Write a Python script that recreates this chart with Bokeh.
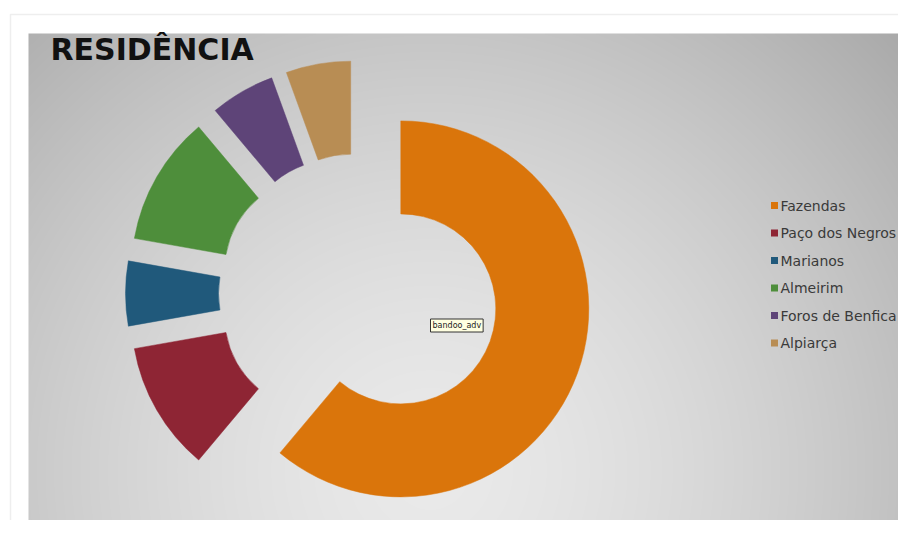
import numpy as np
from bokeh.plotting import figure
from bokeh.models import Range1d, Label, BoxAnnotation, ColumnDataSource
from bokeh.core.properties import value
from bokeh.embed import file_html
from bokeh.resources import INLINE

# ---- data ----
categories = ["Fazendas", "Paço dos Negros", "Marianos", "Almeirim", "Foros de Benfica", "Alpiarça"]
counts = [22, 4, 2, 4, 2, 2]
colors = ["#DA750B", "#8E2534", "#20597B", "#4E8E3B", "#5E4478", "#B88D54"]
title_text = "RESIDÊNCIA"
tooltip_text = "bandoo_adv"

# ---- layout ----
W, H = 898, 520


def Y(y):
    return H - y  # top-down pixel -> data y


p = figure(width=W, height=H, x_range=Range1d(0, W), y_range=Range1d(0, H),
           output_backend="svg", toolbar_location=None, min_border=0,
           x_axis_location=None, y_axis_location=None)
p.grid.visible = False
p.outline_line_color = None
p.background_fill_color = "white"
p.border_fill_color = "white"

# card frame
p.add_layout(BoxAnnotation(left=10, right=W + 20, top=Y(14), bottom=-20,
                           fill_color="white", fill_alpha=1, level="underlay",
                           line_color="#c8c8c8", line_width=1.5))

# gradient panel
px0, py0, px1, py1 = 28, 33, 901, 524
pw, ph = px1 - px0, py1 - py0
jj, ii = np.meshgrid(np.arange(pw), np.arange(ph))
gx = px0 + jj + 0.5
gy = py1 - (ii + 0.5)
t = np.sqrt(((gx - 430) / 520.0) ** 2 + ((gy - 470) / 520.0) ** 2)
v = np.clip(234 - 47 * t ** 1.5, 162, 236).astype(np.uint8)
img = np.empty((ph, pw), dtype=np.uint32)
view = img.view(dtype=np.uint8).reshape((ph, pw, 4))
view[..., 0] = v
view[..., 1] = v
view[..., 2] = v
view[..., 3] = 255
p.image_rgba(image=[img], x=px0, y=Y(py1), dw=pw, dh=ph)

# donut
cx, cy = 358, Y(293)
R_out, R_in, explode = 188, 95, 45
total = float(sum(counts))
cum = np.concatenate([[0], np.cumsum(counts)]) / total * 2 * np.pi
b0, b1 = cum[:-1], cum[1:]
mid = (b0 + b1) / 2
src = ColumnDataSource(dict(
    x=cx + explode * np.sin(mid),
    y=cy + explode * np.cos(mid),
    start=np.pi / 2 - b1,
    end=np.pi / 2 - b0,
    color=colors,
    name=categories,
))
p.annular_wedge(x="x", y="y", inner_radius=R_in, outer_radius=R_out,
                start_angle="start", end_angle="end", fill_color="color",
                line_color="color", line_width=0.5, source=src)

# legend (manual, square markers)
ly = [Y(205 + 27.5 * i) for i in range(len(categories))]
p.scatter(x=[774] * len(categories), y=ly, marker="square", size=7,
          fill_color=colors, line_color=None)
p.text(x=[780] * len(categories), y=ly, text=categories,
       text_font=value("DejaVu Sans"), text_font_size="14px",
       text_color="#3a3a3a", text_baseline="middle", text_align="left")

# title
p.add_layout(Label(x=50, y=Y(49), text=title_text, text_font="DejaVu Sans",
                   text_font_size="30px", text_font_style="bold",
                   text_color="#111111", text_baseline="alphabetic"))

# tooltip-like tag
p.add_layout(Label(x=430, y=Y(325), text=tooltip_text, text_font="DejaVu Sans",
                   text_font_size="8px", text_color="#222222",
                   text_baseline="middle", background_fill_color="#FFFFE1",
                   border_line_color="#333333", border_line_width=1, padding=2))

open("out.html", "w").write(file_html(p, INLINE))
